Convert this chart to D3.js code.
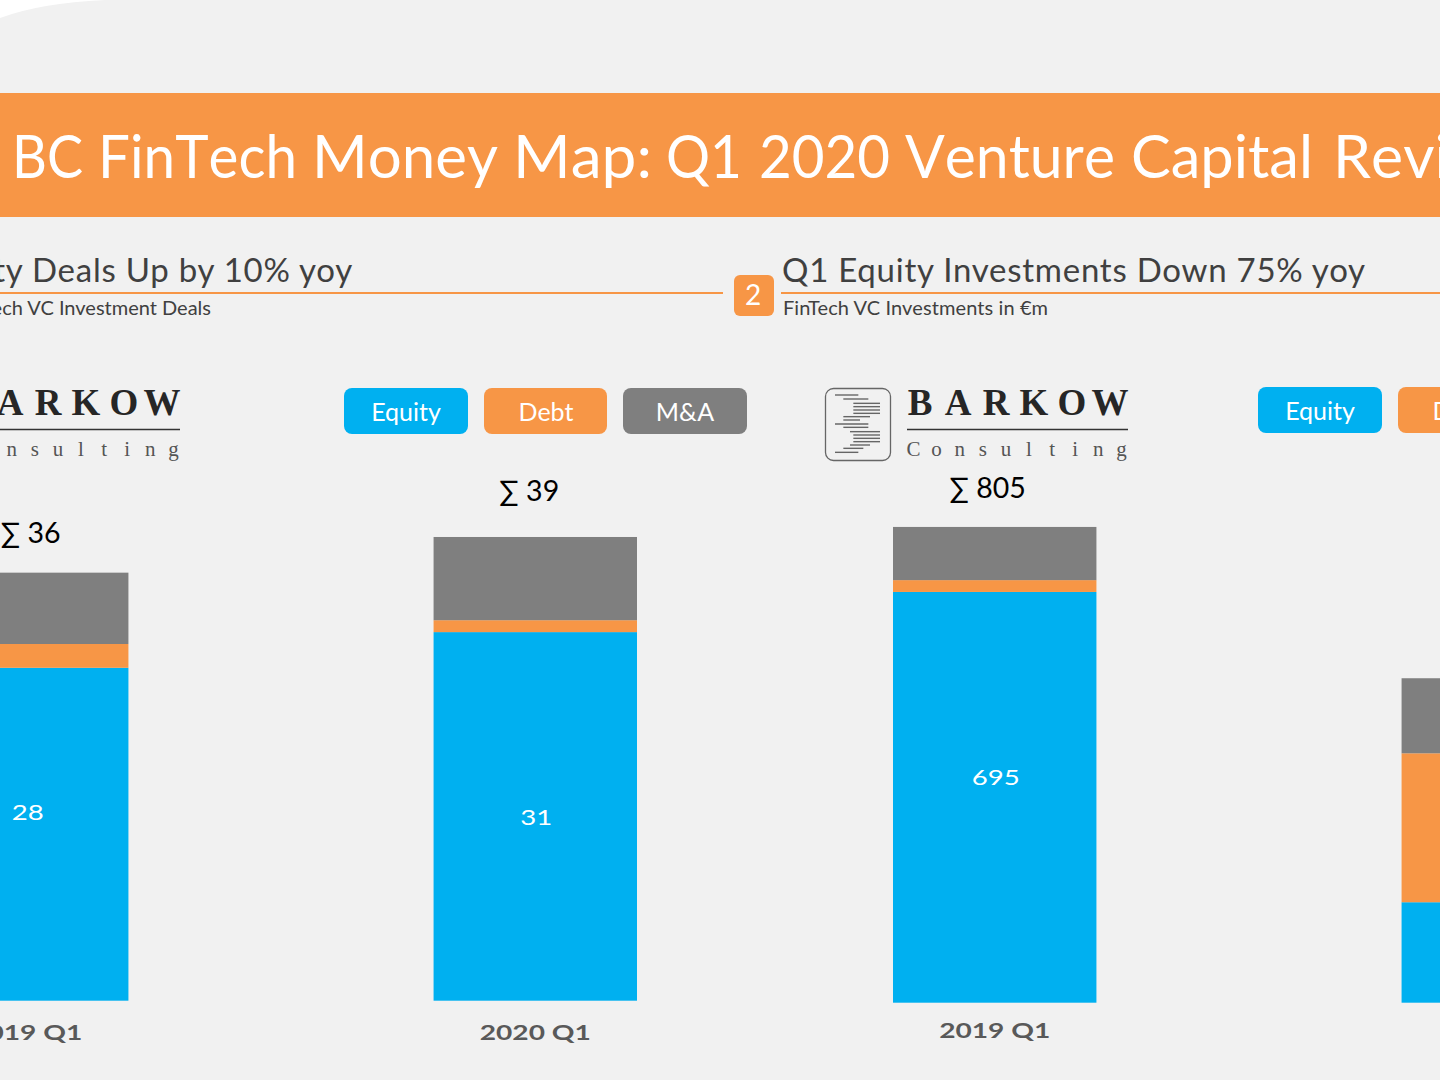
<!DOCTYPE html>
<html><head><meta charset="utf-8">
<style>html,body{margin:0;padding:0;background:#f1f1f1;overflow:hidden}svg{display:block}text{font-family:Lato,"Open Sans",sans-serif}</style>
<script src="https://cdn.jsdelivr.net/npm/d3@7"></script></head><body>
<script>
const seriesNames = ["Equity","Debt","M&A"];
const seriesColors = ["#00b0f0","#f79646","#7f7f7f"];
const quarters = ["2019 Q1","2020 Q1"];
const dealsEquity = [28,31];
const dealsDebt = [2,1];
const dealsMA = [6,7];
const dealsTotals = ["∑ 36","∑ 39"];
const investEquity = [695,170];
const investDebt = [20,252];
const investMA = [90,127];
const investTotals = ["∑ 805",""];
const titleWords = ["BC","FinTech","Money","Map:","Q1","2020","Venture","Capital","Review"];
const titleWordX = [12,98,312,513,666,759,905,1131,1333];
const titleWordW = [71,199,186,139,76,131,210,182,196];

const svg = d3.select("body").append("svg").attr("width",1440).attr("height",1080);
svg.append("rect").attr("width",1440).attr("height",1080).attr("fill","#f1f1f1");
svg.append("path").attr("d","M0,18 Q40,3 105,0 L0,0 Z").attr("fill","#ffffff");
svg.append("rect").attr("x",0).attr("y",93).attr("width",1440).attr("height",124).attr("fill","#f79646");
const title = svg.append("text").attr("y",178).attr("font-size",60).attr("fill","#fff").style("font-variant-ligatures","none").style("font-kerning","none");
titleWords.forEach((w,i)=>title.append("tspan").attr("x",titleWordX[i]).attr("textLength",titleWordW[i]).attr("lengthAdjust","spacingAndGlyphs").text(w));

svg.append("text").attr("x",353).attr("y",282).attr("text-anchor","end").attr("letter-spacing",0.75).attr("font-size",33).attr("fill","#404040").text("Q1 Equity Deals Up by 10% yoy");
svg.append("line").attr("x1",0).attr("x2",723).attr("y1",293).attr("y2",293).attr("stroke","#f79646").attr("stroke-width",2);
svg.append("text").attr("x",211).attr("y",315).attr("text-anchor","end").attr("font-size",20).attr("fill","#404040").text("FinTech VC Investment Deals");
svg.append("text").attr("x",782).attr("y",282).attr("letter-spacing",0.75).attr("font-size",33).attr("fill","#404040").text("Q1 Equity Investments Down 75% yoy");
svg.append("line").attr("x1",781).attr("x2",1440).attr("y1",293).attr("y2",293).attr("stroke","#f79646").attr("stroke-width",2);
svg.append("text").attr("x",783).attr("y",315).attr("letter-spacing",0.1).attr("font-size",20).attr("fill","#404040").text("FinTech VC Investments in €m");
svg.append("rect").attr("x",734).attr("y",275).attr("width",40).attr("height",41).attr("rx",6).attr("fill","#f79646");
svg.append("text").attr("x",753).attr("y",305).attr("text-anchor","middle").attr("font-size",28).attr("fill","#fff").text("2");

function legend(xs,y){
  seriesNames.forEach((n,i)=>{
    const g = svg.append("g");
    g.append("rect").attr("x",xs[i]).attr("y",y).attr("width",i==1?123:124).attr("height",46).attr("rx",8).attr("fill",seriesColors[i]);
    g.append("text").attr("x",xs[i]+62).attr("y",y+33).attr("text-anchor","middle").attr("font-size",25).attr("fill","#fff").text(n);
  });
}
legend([344,484,623],388);
legend([1258,1398,1537],387);

const logoLines = [[105,175,75],[130,205,87],[160,240,100],[160,240,110],[160,240,120],[160,240,130],[130,210,140],[130,180,150],[105,205,162],[130,205,172],[150,240,185],[160,240,195],[160,240,205],[160,240,215],[150,210,225],[130,190,235],[105,175,247]];
function logo(dx){
  const g = svg.append("g").attr("transform",`translate(${dx},0)`);
  g.append("rect").attr("x",825.5).attr("y",388.5).attr("width",65).attr("height",72).attr("rx",8).attr("fill","none").attr("stroke","#666").attr("stroke-width",1.3);
  logoLines.forEach(l=>g.append("line").attr("x1",800+l[0]/3).attr("x2",800+l[1]/3).attr("y1",370+l[2]/3).attr("y2",370+l[2]/3).attr("stroke","#666").attr("stroke-width",1.4));
  "BARKOW".split("").forEach((c,i)=>g.append("text").attr("x",920+i*38).attr("y",415).attr("text-anchor","middle").style("font-family","'Liberation Serif',serif").attr("font-weight",700).attr("font-size",37).attr("fill","#262626").text(c));
  g.append("line").attr("x1",907).attr("x2",1128).attr("y1",429.5).attr("y2",429.5).attr("stroke","#333").attr("stroke-width",1.5);
  "Consulting".split("").forEach((c,i)=>g.append("text").attr("x",913.5+i*23.1).attr("y",456).attr("text-anchor","middle").style("font-family","'Liberation Serif',serif").attr("font-size",21).attr("fill","#555").text(c));
}
logo(-948); logo(0);

function stacked(eq,de,ma,totals,x0,baseY,perUnit,totalOffsets,totalYs,labelYs,axisY){
  const rows = quarters.map((q,i)=>({q,Equity:eq[i],Debt:de[i],"M&A":ma[i]}));
  const x = d3.scaleBand().domain(quarters).range([x0,x0+712]).paddingInner(0.6).paddingOuter(0);
  const maxV = d3.max(rows,r=>r.Equity+r.Debt+r["M&A"]);
  const y = d3.scaleLinear().domain([0,maxV]).range([baseY,baseY-maxV*perUnit]);
  const stack = d3.stack().keys(seriesNames)(rows);
  const g = svg.append("g");
  g.selectAll("g").data(stack).join("g").attr("fill",(d,i)=>seriesColors[i])
    .selectAll("rect").data(d=>d).join("rect")
    .attr("x",d=>x(d.data.q)).attr("width",x.bandwidth())
    .attr("y",d=>y(d[1])).attr("height",d=>y(d[0])-y(d[1]));
  rows.forEach((r,i)=>{
    const cx = x(r.q)+x.bandwidth()/2;
    if(cx>1440) return;
    g.append("text").attr("x",cx+1).attr("y",labelYs[i]).attr("text-anchor","middle").attr("font-size",22).attr("fill","#fff").attr("textLength",r.Equity>99?48:32).attr("lengthAdjust","spacingAndGlyphs").text(r.Equity);
    g.append("text").attr("x",cx+totalOffsets[i]).attr("y",totalYs[i]).attr("text-anchor","middle").attr("font-size",28.5).attr("fill","#000").text(totals[i]);
  });
  const ax = d3.axisBottom(x).tickSize(0).tickPadding(0);
  const a = g.append("g").attr("transform",`translate(0,${axisY})`).call(ax);
  a.select(".domain").remove();
  a.selectAll(".tick").filter(d=>x(d)+x.bandwidth()/2>1440).remove();
  a.selectAll("text").attr("font-size",21).attr("font-weight",700).attr("fill","#595959").style("font-family","Lato,sans-serif").attr("textLength",111).attr("lengthAdjust","spacingAndGlyphs");
}
stacked(dealsEquity,dealsDebt,dealsMA,dealsTotals,-75,1000.7,11.89,[4,-6],[543,501],[820,825],1025);
stacked(investEquity,investDebt,investMA,investTotals,893,1002.7,0.591,[-7,0],[498,0],[785,800],1023);
</script></body></html>
